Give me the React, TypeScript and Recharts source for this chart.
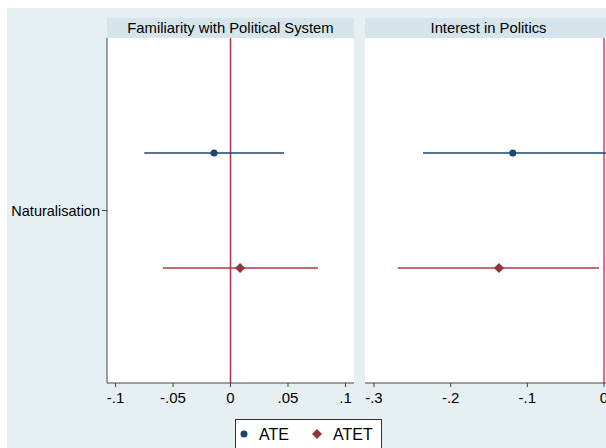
import React from 'react'
import { ScatterChart, Scatter, XAxis, YAxis, ErrorBar, ReferenceLine } from 'recharts'

const categories = ['Naturalisation']
const panelTitles = ['Familiarity with Political System', 'Interest in Politics']
const seriesNames = ['ATE', 'ATET']

// one value per panel
const ateEst = [-0.0143, -0.119]
const ateLow = [-0.075, -0.236]
const ateHigh = [0.0465, 0.006]
const atetEst = [0.0083, -0.137]
const atetLow = [-0.0587, -0.269]
const atetHigh = [0.076, -0.0065]

const xTicks = [
  [-0.1, -0.05, 0, 0.05, 0.1],
  [-0.3, -0.2, -0.1, 0],
]
const xDomains = [
  [-0.1074, 0.1074],
  [-0.3117, 0.0104],
]

const FONT = '"Liberation Sans", Arial, sans-serif'
const NAVY = '#1a476f'
const MAROON = '#90353b'
const RED_CI = '#b23a44'
const BG = '#e6f0f3'
const STRIP = '#d5e5eb'
const AXIS = '#444'

const PLOT_TOP = 38
const PLOT_H = 345
const PLOT_W = 247
const YAXIS_W = 107

const fmt = (v: number) => (v === 0 ? '0' : String(v).replace('0.', '.'))

const Dot = (p: any) => <circle cx={p.cx} cy={p.cy} r={3.5} fill={NAVY} />
const Diamond = (p: any) => {
  const s = 5
  return (
    <path
      d={`M${p.cx},${p.cy - s}L${p.cx + s},${p.cy}L${p.cx},${p.cy + s}L${p.cx - s},${p.cy}Z`}
      fill={MAROON}
    />
  )
}

function Panel({ idx, left, zeroColor }: { idx: number; left: number; zeroColor: string }) {
  const showY = idx === 0
  const catPos = 3
  const ate = [
    { pos: catPos + 1, est: ateEst[idx], err: [ateEst[idx] - ateLow[idx], ateHigh[idx] - ateEst[idx]] },
  ]
  const atet = [
    { pos: catPos - 1, est: atetEst[idx], err: [atetEst[idx] - atetLow[idx], atetHigh[idx] - atetEst[idx]] },
  ]
  const chartLeft = showY ? 0 : left
  const width = showY ? YAXIS_W + PLOT_W : PLOT_W
  return (
    <>
      <div
        style={{
          position: 'absolute',
          left,
          top: 18,
          width: PLOT_W,
          height: 20,
          background: STRIP,
          fontFamily: FONT,
          fontSize: 14.8,
          lineHeight: '20px',
          textAlign: 'center',
          color: '#000',
        }}
      >
        {panelTitles[idx]}
      </div>
      <div
        style={{ position: 'absolute', left, top: PLOT_TOP, width: PLOT_W, height: PLOT_H, background: '#fff' }}
      />
      <div style={{ position: 'absolute', left: chartLeft, top: PLOT_TOP }}>
        <ScatterChart width={width} height={PLOT_H + 40} margin={{ top: 0, right: 0, bottom: 0, left: 0 }}>
          <XAxis
            type="number"
            dataKey="est"
            domain={xDomains[idx]}
            allowDataOverflow
            ticks={xTicks[idx]}
            tickFormatter={fmt}
            height={40}
            tickSize={4}
            tickMargin={5}
            stroke={AXIS}
            tick={{ fill: '#000', fontSize: 15, fontFamily: FONT }}
          />
          <YAxis
            type="number"
            dataKey="pos"
            domain={[0, 6]}
            ticks={[catPos]}
            tickFormatter={() => categories[0]}
            hide={!showY}
            width={YAXIS_W}
            tickSize={5}
            tickMargin={2}
            stroke={AXIS}
            tick={{ fill: '#000', fontSize: 14.5, fontFamily: FONT }}
          />
          <ReferenceLine x={0} stroke={zeroColor} strokeWidth={1.5} ifOverflow="visible" />
          <Scatter name={seriesNames[0]} data={ate} shape={Dot} isAnimationActive={false}>
            <ErrorBar dataKey="err" direction="x" width={0} stroke={NAVY} strokeWidth={1.6} isAnimationActive={false} />
          </Scatter>
          <Scatter name={seriesNames[1]} data={atet} shape={Diamond} isAnimationActive={false}>
            <ErrorBar dataKey="err" direction="x" width={0} stroke={RED_CI} strokeWidth={1.6} isAnimationActive={false} />
          </Scatter>
        </ScatterChart>
      </div>
    </>
  )
}

function Legend() {
  return (
    <svg
      style={{ position: 'absolute', left: 235, top: 419 }}
      width={147}
      height={40}
    >
      <rect x={0.5} y={0.5} width={146} height={39} fill="#fff" stroke="#333" />
      <circle cx={9} cy={15} r={3.5} fill={NAVY} />
      <text x={24} y={21} fontSize={16} fontFamily={FONT} fill="#000">
        {seriesNames[0]}
      </text>
      <path d="M82,10L87,15L82,20L77,15Z" fill={MAROON} />
      <text x={98} y={21} fontSize={16} fontFamily={FONT} fill="#000">
        {seriesNames[1]}
      </text>
    </svg>
  )
}

export default function App() {
  return (
    <div
      style={{
        position: 'absolute',
        left: 0,
        top: 0,
        width: 606,
        height: 448,
        overflow: 'hidden',
        background: '#fff',
      }}
    >
      <div style={{ position: 'absolute', left: 7, top: 8, right: 0, bottom: 0, background: BG }} />
      <Panel idx={0} left={107} zeroColor="#b2303c" />
      <Panel idx={1} left={365} zeroColor="#dc3c4a" />
      <Legend />
    </div>
  )
}
